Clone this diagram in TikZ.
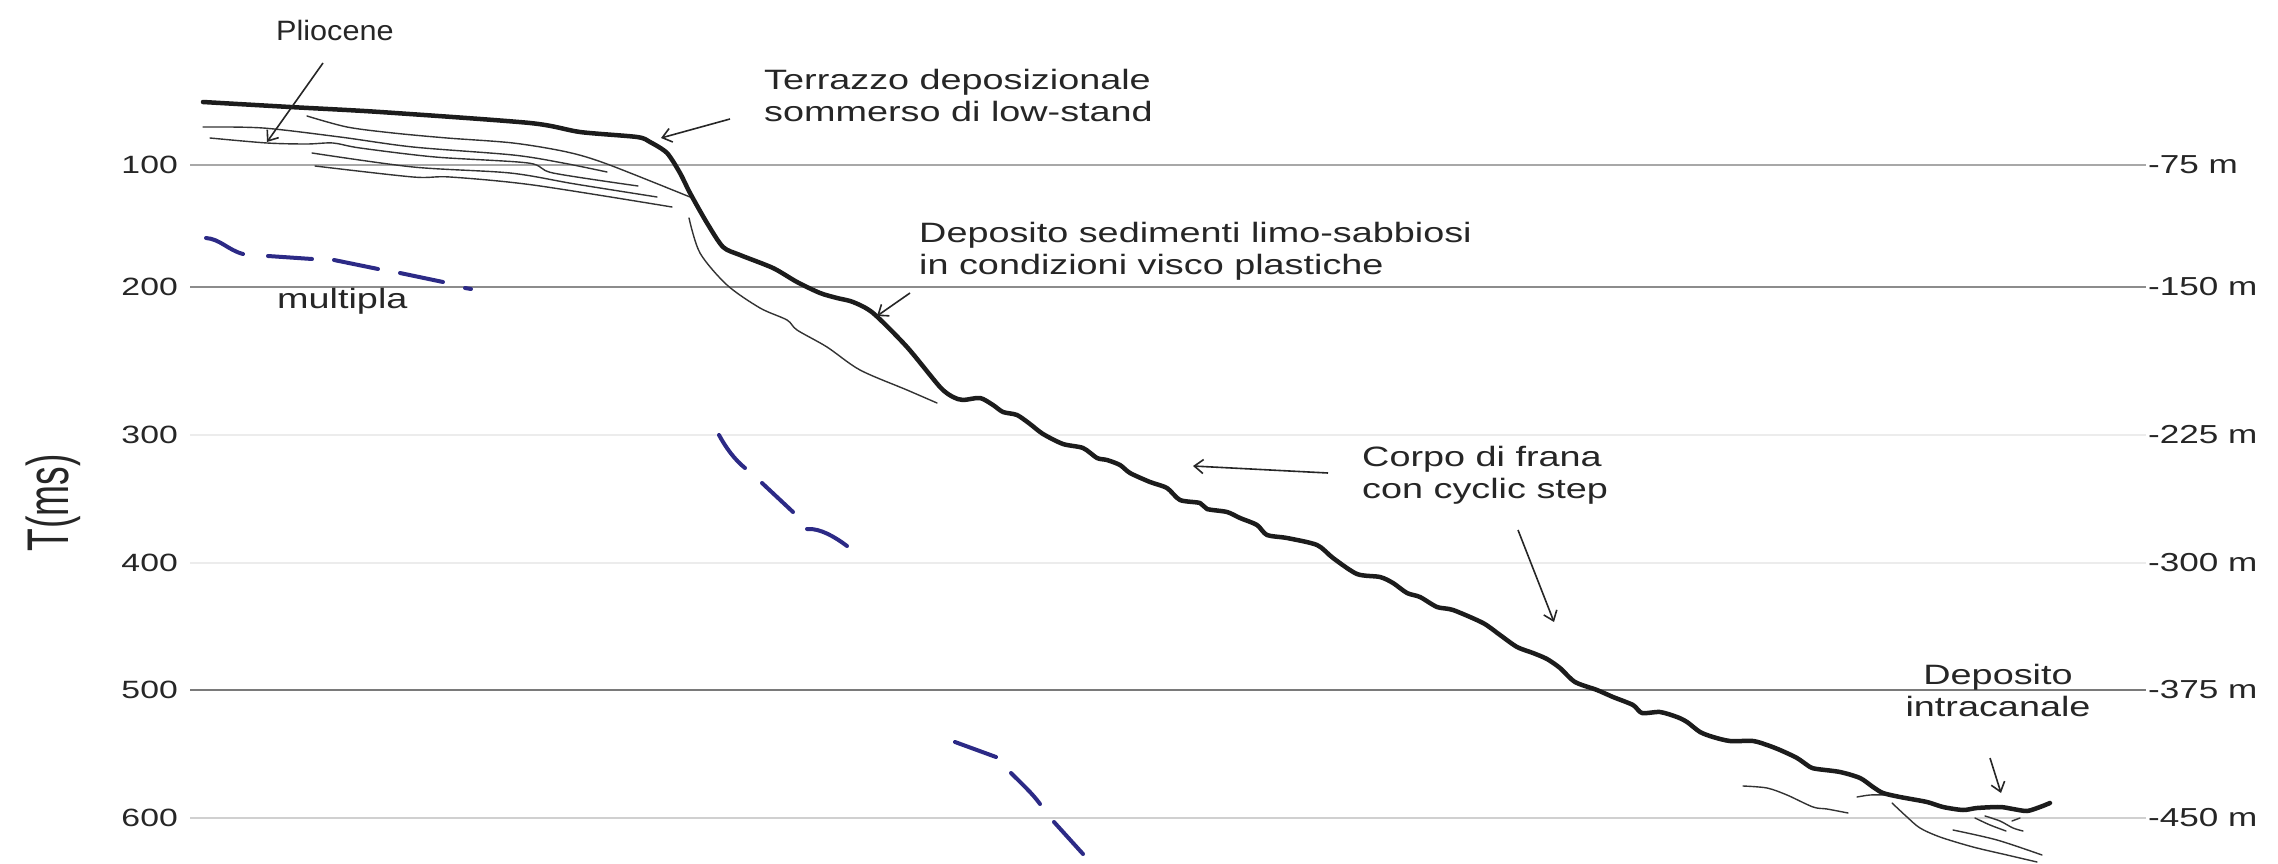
\documentclass[tikz,border=0pt]{standalone}
\usepackage{fontspec}
\usepackage{graphicx}
\setmainfont{Liberation Sans}[FakeStretch=1.35]
\newfontfamily\plainsans{Liberation Sans}
\usetikzlibrary{arrows.meta}

\definecolor{ink}{HTML}{262626}
\definecolor{seabed}{HTML}{1C1C1C}
\definecolor{layer}{HTML}{333333}
\definecolor{multi}{HTML}{2C2A86}
\definecolor{gA}{HTML}{A8A8A8}
\definecolor{gB}{HTML}{8C8C8C}
\definecolor{gC}{HTML}{ECECEC}
\definecolor{gD}{HTML}{7A7A7A}
\definecolor{gE}{HTML}{D0D0D0}

\tikzset{
  grid/.style={line width=1.5pt},
  axl/.style={text=ink, inner sep=0pt, font=\fontsize{25}{30}\selectfont, anchor=east},
  axr/.style={text=ink, inner sep=0pt, font=\fontsize{26}{30}\selectfont, anchor=west},
  annot/.style={text=ink, inner sep=0pt, font=\fontsize{28}{32}\selectfont, align=left, anchor=north west},
  seafloor/.style={draw=seabed, line width=4.5pt, line cap=round, line join=round},
  reflector/.style={draw=layer, line width=1.4pt, line cap=round, line join=round},
  multiple/.style={draw=multi, line width=4pt, line cap=round},
  pointer/.style={draw=ink, line width=1.6pt, -{Straight Barb[length=9pt,width=14pt,line width=1.6pt]}}
}

\begin{document}
\begin{tikzpicture}[x=1pt,y=-1pt]
\useasboundingbox (0,0) rectangle (2278,864);
\fill[white] (0,0) rectangle (2278,864);

% two-way time grid
\draw[grid, gA] (190,165) -- (2146,165);
\draw[grid, gB] (190,287) -- (2146,287);
\draw[grid, gC] (190,435) -- (2146,435);
\draw[grid, gC] (190,563) -- (2146,563);
\draw[grid, gD] (190,690) -- (2146,690);
\draw[grid, gE] (190,818) -- (2146,818);

% time labels (left)
\node[axl] (t100) at (178,165) {100};
\node[axl] (t200) at (178,287) {200};
\node[axl] (t300) at (178,435) {300};
\node[axl] (t400) at (178,563) {400};
\node[axl] (t500) at (178,690) {500};
\node[axl] (t600) at (178,818) {600};

% depth labels (right)
\node[axr] (d75)  at (2148,165) {-75 m};
\node[axr] (d150) at (2148,287) {-150 m};
\node[axr] (d225) at (2148,435) {-225 m};
\node[axr] (d300) at (2148,563) {-300 m};
\node[axr] (d375) at (2148,690) {-375 m};
\node[axr] (d450) at (2148,818) {-450 m};

% axis title
\node[text=ink, inner sep=0pt, rotate=90] (tms) at (53,503)
  {\scalebox{0.93}[1.47]{\plainsans\fontsize{40}{40}\selectfont T(ms)}};

% Pliocene reflectors on the shelf
\draw[reflector] plot[smooth, tension=0.5] coordinates {(307,116) (347,127) (393,133) (447,138) (513,143) (567,152) (607,164) (690,197)};
\draw[reflector] plot[smooth, tension=0.5] coordinates {(203,127) (263,128) (340,137) (413,147) (513,155) (563,163) (607,172)};
\draw[reflector] plot[smooth, tension=0.5] coordinates {(210,138) (267,143) (307,144) (333,143) (360,148) (435,157) (528,163) (553,173) (638,186)};
\draw[reflector] plot[smooth, tension=0.5] coordinates {(312,153) (413,167) (510,173) (575,184) (657,197)};
\draw[reflector] plot[smooth, tension=0.5] coordinates {(315,166) (413,177) (450,177) (533,185) (672,207)};

% reflector below the upper slope
\draw[reflector] plot[smooth, tension=0.5] coordinates {(689,218) (700,253) (727,285) (760,308) (787,320) (797,330) (827,347) (860,370) (907,390) (937,403)};

% intracanal reflectors at the toe
\draw[reflector] plot[smooth, tension=0.5] coordinates {(1743,786) (1767,788) (1787,795) (1813,807) (1827,809) (1848,813)};
\draw[reflector] plot[smooth, tension=0.5] coordinates {(1857,797) (1870,795) (1885,795)};
\draw[reflector] plot[smooth, tension=0.5] coordinates {(1892,803) (1907,817) (1920,828) (1940,837) (1973,847) (2007,855) (2037,862)};
\draw[reflector] plot[smooth, tension=0.5] coordinates {(1953,830) (1997,840) (2042,855)};
\draw[reflector] plot[smooth, tension=0.5] coordinates {(1975,818) (1990,825) (2006,831)};
\draw[reflector] plot[smooth, tension=0.5] coordinates {(1985,816) (2000,821) (2013,828) (2023,831)};
\draw[reflector] plot[smooth, tension=0.5] coordinates {(2012,821) (2020,818)};

% seabed profile
\draw[seafloor] plot[smooth, tension=0.45] coordinates {
 (203,102) (290,107) (380,112) (530,123) (580,132) (637,137) (650,142) (667,153)
 (680,173) (690,193) (707,223) (723,247) (740,255) (773,268) (797,282) (820,293)
 (837,298) (853,302) (873,313) (907,347) (940,387) (953,397) (963,400) (980,398)
 (993,405) (1003,412) (1017,415) (1030,424) (1043,434) (1063,444) (1083,448)
 (1097,458) (1107,460) (1120,465) (1130,473) (1150,482) (1167,488) (1180,500)
 (1200,503) (1207,509) (1227,512) (1240,518) (1257,525) (1267,535) (1287,538)
 (1317,545) (1333,558) (1357,574) (1380,577) (1393,583) (1407,593) (1420,597)
 (1437,607) (1453,610) (1483,623) (1500,635) (1517,647) (1533,653) (1547,659)
 (1560,668) (1575,682) (1597,690) (1613,697) (1633,705) (1642,713) (1660,712)
 (1677,717) (1687,722) (1700,732) (1713,737) (1730,741) (1753,741) (1767,745)
 (1780,750) (1797,758) (1810,767) (1817,769) (1840,772) (1860,778) (1873,787)
 (1883,793) (1900,797) (1927,802) (1943,807) (1963,810) (1977,808) (2000,807)
 (2013,809) (2027,811) (2040,807) (2050,803)};

% seabed multiple (dashed traces)
\draw[multiple] (206,238) .. controls (220,239) and (228,250) .. (243,254);
\draw[multiple] (268,256) -- (312,259);
\draw[multiple] (334,260) -- (378,269);
\draw[multiple] (400,273) -- (443,282);
\draw[multiple] (465,288) -- (471,289);
\draw[multiple] (719,435) .. controls (726,448) and (735,460) .. (745,468);
\draw[multiple] (762,483) -- (793,512);
\draw[multiple] (807,529) .. controls (820,528) and (835,537) .. (847,546);
\draw[multiple] (955,742) -- (996,757);
\draw[multiple] (1011,773) .. controls (1020,782) and (1033,794) .. (1040,804);
\draw[multiple] (1054,822) -- (1083,854);

% annotations
\node[annot] (plio) at (276,20) {\scalebox{0.81}[1]{Pliocene}};
\node[annot] (mult) at (277,288) {multipla};
\node[annot] (terr) at (764,69) {Terrazzo deposizionale\\sommerso di low-stand};
\node[annot] (depo) at (919,222) {Deposito sedimenti limo-sabbiosi\\in condizioni visco plastiche};
\node[annot] (corp) at (1362,446) {Corpo di frana\\con cyclic step};
\node[annot, align=center, anchor=north] (intr) at (1998,664) {Deposito\\intracanale};

% pointer ends
\coordinate (plioTail) at (323,63);
\coordinate (plioTip)  at (267,142);
\coordinate (terrTail) at (730,119);
\coordinate (terrTip)  at (661,138);
\coordinate (depoTail) at (910,293);
\coordinate (depoTip)  at (877,316);
\coordinate (corpTailA) at (1328,473);
\coordinate (corpTipA)  at (1193,466);
\coordinate (corpTailB) at (1518,530);
\coordinate (corpTipB)  at (1554,622);
\coordinate (intrTail) at (1990,758);
\coordinate (intrTip)  at (2001,793);

\draw[pointer] (plioTail) -- (plioTip);
\draw[pointer] (terrTail) -- (terrTip);
\draw[pointer] (depoTail) -- (depoTip);
\draw[pointer] (corpTailA) -- (corpTipA);
\draw[pointer] (corpTailB) -- (corpTipB);
\draw[pointer] (intrTail) -- (intrTip);
\end{tikzpicture}
\end{document}
